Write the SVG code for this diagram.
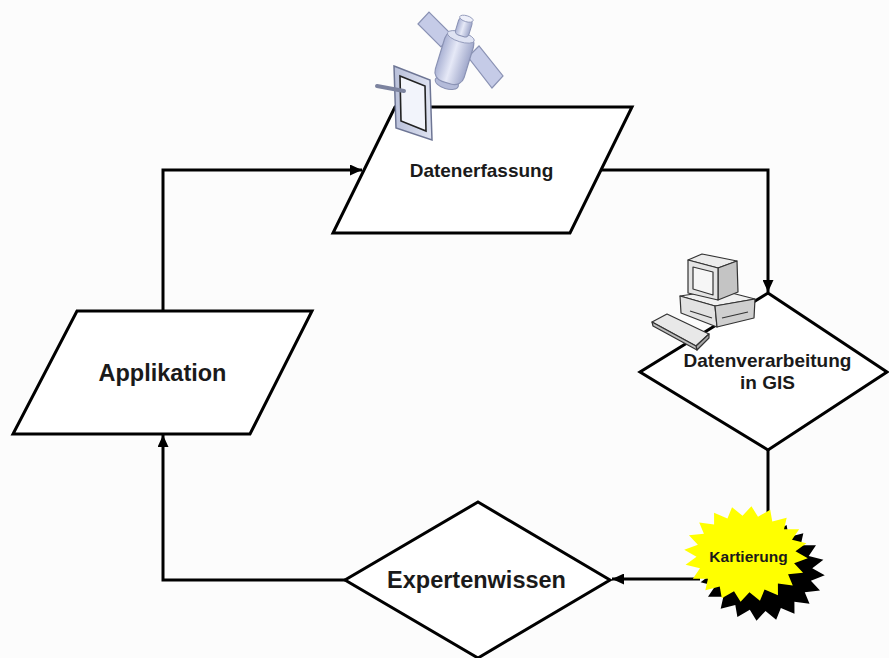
<svg xmlns="http://www.w3.org/2000/svg" width="889" height="658" viewBox="0 0 889 658">
  <style>
    .shape { fill: #ffffff; stroke: #000000; stroke-width: 3; stroke-linejoin: miter; }
    .conn { fill: none; stroke: #000000; stroke-width: 3; }
    .lbl { font-family: "Liberation Sans", Arial, sans-serif; font-weight: bold; fill: #1a1a1a; text-anchor: middle; }
    .big { font-size: 23.5px; }
    .mid { font-size: 19px; }
    .small { font-size: 15.5px; }
    .sat { stroke: #8a92b4; stroke-width: 1.2; }
  </style>
  <defs>
    <marker id="arrow" markerUnits="userSpaceOnUse" markerWidth="13" markerHeight="11" refX="12" refY="5.5" orient="auto">
      <path d="M0,0 L12,5.5 L0,11 z" fill="#000000"/>
    </marker>
    <!-- 20-spike burst, unit radius 100 -->
    <polygon id="burst" points="100,0 79,12.5 95.1,30.9 71.3,36.3 80.9,58.8 56.6,56.6 58.8,80.9 36.3,71.3 30.9,95.1 12.5,79 0,100 -12.5,79 -30.9,95.1 -36.3,71.3 -58.8,80.9 -56.6,56.6 -80.9,58.8 -71.3,36.3 -95.1,30.9 -79,12.5 -100,0 -79,-12.5 -95.1,-30.9 -71.3,-36.3 -80.9,-58.8 -56.6,-56.6 -58.8,-80.9 -36.3,-71.3 -30.9,-95.1 -12.5,-79 0,-100 12.5,-79 30.9,-95.1 36.3,-71.3 58.8,-80.9 56.6,-56.6 80.9,-58.8 71.3,-36.3 95.1,-30.9 79,-12.5"/>
    <linearGradient id="satBody" x1="0" y1="0" x2="1" y2="0">
      <stop offset="0" stop-color="#aab2d4"/>
      <stop offset="0.45" stop-color="#e6e9f7"/>
      <stop offset="1" stop-color="#a0a8cb"/>
    </linearGradient>
    <linearGradient id="pdaBody" x1="0" y1="0" x2="1" y2="0">
      <stop offset="0" stop-color="#b9c0da"/>
      <stop offset="1" stop-color="#dfe3f1"/>
    </linearGradient>
  </defs>

  <rect width="889" height="658" fill="#fcfcfc"/>

  <!-- connectors -->
  <g id="connectors">
    <path class="conn" d="M163,311 V170 H362" marker-end="url(#arrow)"/>
    <path class="conn" d="M601,170 H768 V292" marker-end="url(#arrow)"/>
    <path class="conn" d="M768,450 V516"/>
    <path class="conn" d="M700,579 H612" marker-end="url(#arrow)"/>
    <path class="conn" d="M345,580 H163 V435" marker-end="url(#arrow)"/>
  </g>

  <!-- Datenerfassung with satellite and handheld -->
  <g id="datenerfassung">
    <polygon class="shape" points="395,107 632,107 570,233 333,233"/>
    <text class="lbl mid" x="481.5" y="177">Datenerfassung</text>
    <g id="satellite">
      <polygon class="sat" points="418,24 429,12 452,35 441,47" fill="#c5cbe7"/>
      <polygon class="sat" points="468,57 479,46 503,76 492,88" fill="#c5cbe7"/>
      <g transform="translate(455,56) rotate(17)">
        <ellipse cx="0" cy="28" rx="12" ry="6" fill="#b4bbd9" stroke="#8a92b4" stroke-width="1"/>
        <rect x="-15" y="-24" width="30" height="52" rx="10" fill="url(#satBody)" stroke="#8a92b4" stroke-width="1.2"/>
        <ellipse cx="0" cy="-20" rx="14" ry="5" fill="#dfe3f3" stroke="#8a92b4" stroke-width="0.8"/>
        <rect x="-7" y="-39" width="14" height="18" rx="4" fill="url(#satBody)" stroke="#8a92b4" stroke-width="1"/>
        <ellipse cx="0" cy="-39" rx="7" ry="3" fill="#eef0fa" stroke="#8a92b4" stroke-width="0.8"/>
      </g>
    </g>
    <g id="handheld">
      <polygon points="394,66 430,80 432,140 396,128" fill="url(#pdaBody)" stroke="#6d7594" stroke-width="1.5"/>
      <polygon points="400,76 425,86 426,131 401,121" fill="#f2f4fb" stroke="#222" stroke-width="1.6"/>
      <line x1="377" y1="86" x2="404" y2="91" stroke="#7c839f" stroke-width="4" stroke-linecap="round"/>
    </g>
  </g>

  <!-- Datenverarbeitung in GIS with workstation -->
  <g id="datenverarbeitung">
    <polygon class="shape" points="768,293 887,372 768,450 640,372"/>
    <text class="lbl mid" x="767.5" y="367">Datenverarbeitung</text>
    <text class="lbl mid" x="767.5" y="389">in GIS</text>
    <g id="workstation" stroke="#333" stroke-width="1.2" stroke-linejoin="round">
      <!-- base unit -->
      <polygon points="680,296 720,290 755,299 715,306" fill="#f0f0f0"/>
      <polygon points="680,296 715,306 717,327 681,313" fill="#e2e2e2"/>
      <polygon points="715,306 755,299 754,318 717,327" fill="#cfcfcf"/>
      <line x1="690" y1="311" x2="712" y2="318"/>
      <line x1="722" y1="318" x2="748" y2="312"/>
      <!-- monitor -->
      <polygon points="688,260 702,254 737,261 718,268" fill="#ececec"/>
      <polygon points="718,268 737,261 738,292 718,300" fill="#c4c4c4"/>
      <polygon points="688,260 718,268 718,300 688,293" fill="#e4e4e4"/>
      <polygon points="693,267 713,272 713,295 693,289" fill="#f6f6f6"/>
      <!-- keyboard -->
      <polygon points="652,322 667,314 709,334 696,346" fill="#e8e8e8"/>
      <polygon points="696,346 709,334 709,338 697,350" fill="#a8a8a8"/>
      <polygon points="652,322 696,346 697,350 653,326" fill="#bdbdbd"/>
    </g>
  </g>

  <!-- Kartierung burst -->
  <g id="kartierung">
    <use href="#burst" transform="translate(762,571) scale(0.63,0.5) rotate(5)" fill="#000000"/>
    <use href="#burst" transform="translate(746,554) scale(0.62,0.48) rotate(5)" fill="#ffff00"/>
    <text class="lbl small" x="748.5" y="562">Kartierung</text>
  </g>

  <!-- Expertenwissen -->
  <g id="expertenwissen">
    <polygon class="shape" points="478,502 610,580 478,658 345,580"/>
    <text class="lbl big" x="476.5" y="588">Expertenwissen</text>
  </g>

  <!-- Applikation -->
  <g id="applikation">
    <polygon class="shape" points="77,311 312,311 250,434 13,434"/>
    <text class="lbl big" x="162.5" y="381">Applikation</text>
  </g>
</svg>
